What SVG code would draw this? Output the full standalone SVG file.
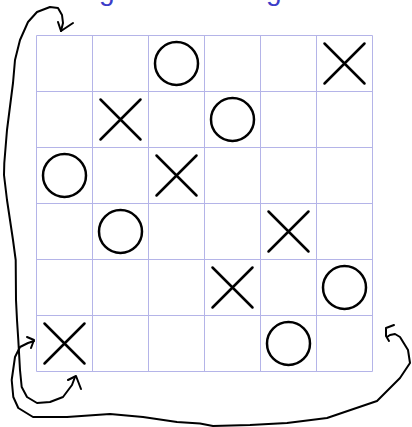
<svg xmlns="http://www.w3.org/2000/svg" width="412" height="427" viewBox="0 0 412 427">
<style>
.grid{stroke:#b4b4e8;stroke-width:1;fill:none}
.o{fill:none;stroke:#000;stroke-width:2.5}
.x{stroke:#000;stroke-width:2.5;stroke-linecap:round}
.ink{fill:none;stroke:#000;stroke-width:2;stroke-linecap:round;stroke-linejoin:round}
.title{font-family:"Liberation Sans",Arial,sans-serif;font-size:28px;fill:#3c3cc8}
</style>
<rect width="412" height="427" fill="#fff"/>
<text class="title" x="99" y="-0.5">g</text>
<text class="title" x="266" y="-0.5">g</text>
<g id="grid">
<path class="grid" d="M36.5,35.5H372.5M36.5,91.5H372.5M36.5,147.5H372.5M36.5,203.5H372.5M36.5,259.5H372.5M36.5,315.5H372.5M36.5,371.5H372.5M36.5,35.5V371.5M92.5,35.5V371.5M148.5,35.5V371.5M204.5,35.5V371.5M260.5,35.5V371.5M316.5,35.5V371.5M372.5,35.5V371.5"/>
</g>
<g id="marks">
<circle class="o" cx="176.5" cy="63.5" r="21.5"/>
<path class="x" d="M324.5,43.5l40,40M364.5,43.5l-40,40"/>
<path class="x" d="M100.5,99.5l40,40M140.5,99.5l-40,40"/>
<circle class="o" cx="232.5" cy="119.5" r="21.5"/>
<circle class="o" cx="64.5" cy="175.5" r="21.5"/>
<path class="x" d="M156.5,155.5l40,40M196.5,155.5l-40,40"/>
<circle class="o" cx="120.5" cy="231.5" r="21.5"/>
<path class="x" d="M268.5,211.5l40,40M308.5,211.5l-40,40"/>
<path class="x" d="M212.5,267.5l40,40M252.5,267.5l-40,40"/>
<circle class="o" cx="344.5" cy="287.5" r="21.5"/>
<path class="x" d="M44.5,323.5l40,40M84.5,323.5l-40,40"/>
<circle class="o" cx="288.5" cy="343.5" r="21.5"/>
</g>
<g id="connectors">
<path class="ink" d="M75,377 L72,385 L63,397 L50,402 L37,403 L27,397 L21.7,387 L20,370 L18.3,340 L17,320 L16,300 L15.7,260 L13,240 L7,200 L4,175 L4.3,163 L7,130 L13,83 L15,60 L20,40 L28,22 L37,12 L50,7 L58,8 L62,15 L63,23 L61,31"/>
<path class="ink" d="M68,380 L76,376 L81,389"/>
<path class="ink" d="M58,22 L61,31 L73,23"/>
<path class="ink" d="M34,341 L28,343 L20,347 L15,357 L11.7,380 L13.3,397 L18.3,408 L33,417 L67,417 L110,414 L143,417 L177,422 L200,423.5 L213,426 L250,425 L287,423 L327,418 L377,401 L400,378 L410,363 L408,350 L400,337 L395,334 L390,335 L387,337"/>
<path class="ink" d="M27,337 L34,340 L31,348"/>
<path class="ink" d="M394,325 L386,328 L386,336 L389,341"/>
</g>
</svg>
